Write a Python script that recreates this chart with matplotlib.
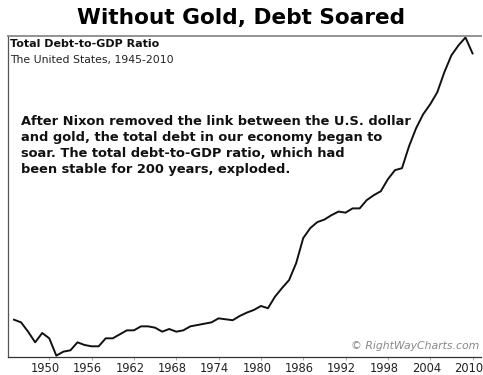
import numpy as np
import matplotlib
matplotlib.use('Agg')
import matplotlib.pyplot as plt
from matplotlib.transforms import ScaledTranslation

# total debt-to-GDP ratio (%)
years = list(range(1945, 2011))
ratio = [157, 155, 148, 140, 147, 143, 130, 133, 134, 140,
         138, 137, 137, 143, 143, 146, 149, 149, 152, 152,
         151, 148, 150, 148, 149, 152, 153, 154, 155, 158,
         157.3, 156.6, 159.8, 162.3, 164.3, 167.3, 165.6, 174.3, 180.8, 186.8,
         199.5, 218.3, 225.8, 230.3, 232.2, 235.5, 238.2, 237.4, 240.6, 240.6,
         246.8, 250.5, 253.5, 262.5, 269.3, 270.8, 287.3, 300.8, 311.3, 318.8,
         327.8, 342.8, 355.5, 363, 369, 357]

tick_years = [1950, 1956, 1962, 1968, 1974, 1980, 1986, 1992, 1998, 2004, 2010]

title = "Without Gold, Debt Soared"
chart_name = "Total Debt-to-GDP Ratio"
subtitle = "The United States, 1945-2010"
note = ("After Nixon removed the link between the U.S. dollar\n"
        "and gold, the total debt in our economy began to\n"
        "soar. The total debt-to-GDP ratio, which had\n"
        "been stable for 200 years, exploded.")
credit = "\u00a9 RightWayCharts.com"

W, H = 483, 375
fig = plt.figure(figsize=(W / 100, H / 100), dpi=100)
ax = fig.add_axes([8 / W, 1 - 356.7 / H, 473 / W, 321 / H])

ax.plot(years, ratio, color='#111111', lw=1.4, solid_joinstyle='round')
ax.set_xlim(1944.15, 2011.2)
ax.set_ylim(129.2, 370.3)

ax.set_xticks(tick_years)
ax.set_xticklabels([str(y) for y in tick_years])
ax.tick_params(axis='x', length=2, width=0.6, color='#999999', pad=1.5,
               labelsize=8.3, labelcolor='#222222')
ax.set_yticks([])
# labels sit a few pixels left of their ticks, so 2010 stays inside the picture
shift = ScaledTranslation(-4 / 100, 0, fig.dpi_scale_trans)
for lab in ax.get_xticklabels():
    lab.set_transform(lab.get_transform() + shift)

ax.spines['right'].set_visible(False)
ax.spines['top'].set_color('#8a8a8a')
ax.spines['top'].set_linewidth(1.3)
ax.spines['left'].set_color('#555555')
ax.spines['left'].set_linewidth(0.9)
ax.spines['bottom'].set_color('#333333')
ax.spines['bottom'].set_linewidth(0.9)

fig.text(241 / W, 1 - 18 / H, title, ha='center', va='center',
         fontsize=15.6, fontweight='bold', color='#000000')
fig.text(10 / W, 1 - 44 / H, chart_name, ha='left', va='center',
         fontsize=8.0, fontweight='bold', color='#111111')
fig.text(10 / W, 1 - 60 / H, subtitle, ha='left', va='center',
         fontsize=7.8, color='#222222')
fig.text(21 / W, 1 - 115 / H, note, ha='left', va='top',
         fontsize=9.4, fontweight='bold', color='#111111', linespacing=1.3)
fig.text(479 / W, 1 - 346 / H, credit, ha='right', va='center',
         fontsize=7.8, style='italic', color='#888888')

fig.savefig('out.png', dpi=100)
